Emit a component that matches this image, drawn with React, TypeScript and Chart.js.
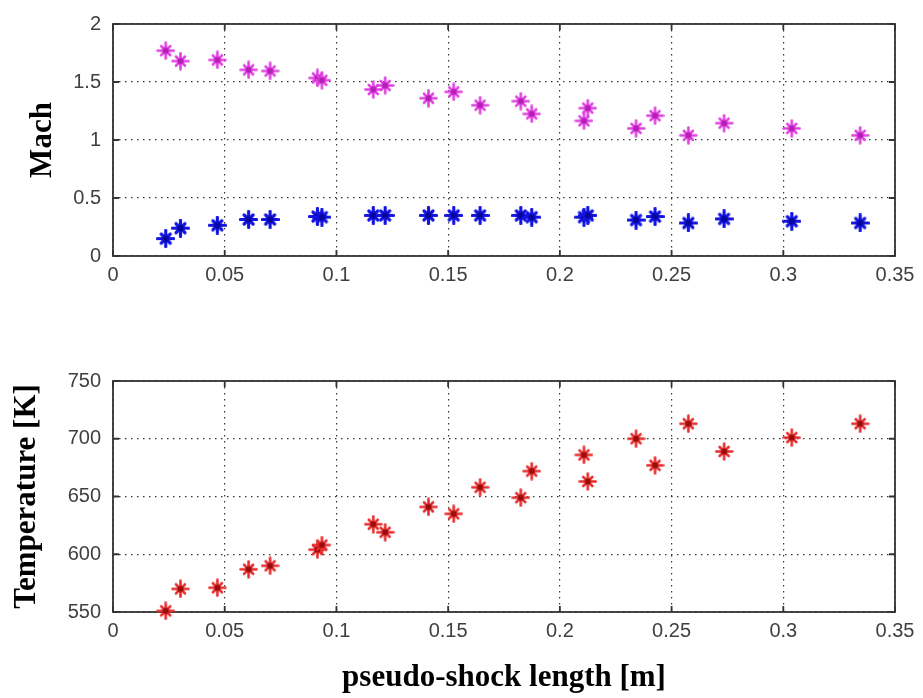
import React, { useEffect, useRef } from 'react';
import { Chart, registerables } from 'chart.js';

Chart.register(...registerables);

// ---------- data ----------
const shockLength = [
  0.0236, 0.0302, 0.0467, 0.0607, 0.0703, 0.0915, 0.0935, 0.1165, 0.1218, 0.1412, 0.1525,
  0.1643, 0.1825, 0.1874, 0.2108, 0.2125, 0.2341, 0.2426, 0.2575, 0.2735, 0.3038, 0.3344,
];
const machUpper = [
  1.77, 1.68, 1.69, 1.605, 1.595, 1.535, 1.515, 1.435, 1.47, 1.36, 1.415,
  1.3, 1.335, 1.225, 1.165, 1.275, 1.1, 1.21, 1.04, 1.145, 1.1, 1.04,
];
const machLower = [
  0.15, 0.24, 0.265, 0.315, 0.315, 0.34, 0.335, 0.35, 0.35, 0.35, 0.35,
  0.35, 0.35, 0.335, 0.335, 0.35, 0.31, 0.34, 0.285, 0.32, 0.3, 0.285,
];
const temperature = [
  551, 570, 571, 587, 590, 604, 608, 626, 619, 641, 635,
  658, 649, 672, 686, 663, 700, 677, 713, 689, 701, 713,
];

const xTickValues = [0, 0.05, 0.1, 0.15, 0.2, 0.25, 0.3, 0.35];
const xTickLabels = ['0', '0.05', '0.1', '0.15', '0.2', '0.25', '0.3', '0.35'];
const machTickValues = [0, 0.5, 1, 1.5, 2];
const machTickLabels = ['0', '0.5', '1', '1.5', '2'];
const tempTickValues = [550, 600, 650, 700, 750];
const tempTickLabels = ['550', '600', '650', '700', '750'];

const machTitle = 'Mach';
const tempTitle = 'Temperature [K]';
const xTitle = 'pseudo-shock length [m]';

// ---------- styling ----------
const TICK_FONT = { family: '"Liberation Sans", Arial, sans-serif', size: 20 };
const TITLE_FONT = { family: '"Liberation Serif", "Times New Roman", serif', size: 31, weight: 'bold' as const };
const TICK_COLOR = '#404040';
const GRID_COLOR = 'rgba(20,20,20,0.85)';
const FRAME_COLOR = '#333333';

function makeMarker(armColor: string, coreColor: string, armWidth: number) {
  const size = 19;
  const c = document.createElement('canvas');
  c.width = size;
  c.height = size;
  const g = c.getContext('2d')!;
  const m = size / 2;
  g.lineCap = 'round';
  g.strokeStyle = armColor;
  g.lineWidth = armWidth;
  g.beginPath();
  g.moveTo(m - 8, m);
  g.lineTo(m + 8, m);
  g.moveTo(m, m - 8);
  g.lineTo(m, m + 8);
  g.stroke();
  g.lineWidth = armWidth;
  g.beginPath();
  g.moveTo(m - 4.5, m - 4.5);
  g.lineTo(m + 4.5, m + 4.5);
  g.moveTo(m - 4.5, m + 4.5);
  g.lineTo(m + 4.5, m - 4.5);
  g.stroke();
  g.fillStyle = coreColor;
  g.beginPath();
  g.arc(m, m, 3, 0, Math.PI * 2);
  g.fill();
  return c;
}

const framePlugin = {
  id: 'matlabFrame',
  beforeDatasetsDraw(chart: any) {
    const { ctx, chartArea } = chart;
    const { left, right, top, bottom } = chartArea;
    ctx.save();
    ctx.strokeStyle = FRAME_COLOR;
    ctx.lineWidth = 1.8;
    ctx.setLineDash([]);
    ctx.strokeRect(left, top, right - left, bottom - top);
    const tl = 6;
    const xs = chart.scales.x;
    const ys = chart.scales.y;
    ctx.beginPath();
    xs.ticks.forEach((t: any) => {
      const px = xs.getPixelForValue(t.value);
      ctx.moveTo(px, bottom);
      ctx.lineTo(px, bottom - tl);
      ctx.moveTo(px, top);
      ctx.lineTo(px, top + tl);
    });
    ys.ticks.forEach((t: any) => {
      const py = ys.getPixelForValue(t.value);
      ctx.moveTo(left, py);
      ctx.lineTo(left + tl, py);
      ctx.moveTo(right, py);
      ctx.lineTo(right - tl, py);
    });
    ctx.stroke();
    ctx.restore();
  },
};

function makeX(showTitle: boolean, height: number) {
  return {
    type: 'linear' as const,
    min: 0,
    max: 0.35,
    afterBuildTicks: (s: any) => {
      s.ticks = xTickValues.map((v) => ({ value: v }));
    },
    afterFit: (s: any) => {
      s.height = height;
    },
    ticks: {
      autoSkip: false,
      maxRotation: 0,
      padding: 7,
      color: TICK_COLOR,
      font: TICK_FONT,
      callback: (_v: any, i: number) => xTickLabels[i],
    },
    grid: { color: GRID_COLOR, lineWidth: 1.2, drawTicks: false },
    border: { display: false, dash: [1.5, 4.5] },
    title: {
      display: showTitle,
      text: xTitle,
      color: '#000',
      font: TITLE_FONT,
      padding: { top: 0, bottom: 1 },
    },
  };
}

function makeY(
  min: number,
  max: number,
  values: number[],
  labels: string[],
  title: string,
  titlePad: number
) {
  return {
    type: 'linear' as const,
    min,
    max,
    afterBuildTicks: (s: any) => {
      s.ticks = values.map((v) => ({ value: v }));
    },
    afterFit: (s: any) => {
      s.width = 113;
    },
    ticks: {
      autoSkip: false,
      padding: 12,
      color: TICK_COLOR,
      font: TICK_FONT,
      callback: (_v: any, i: number) => labels[i],
    },
    grid: { color: GRID_COLOR, lineWidth: 1.2, drawTicks: false },
    border: { display: false, dash: [1.5, 4.5] },
    title: {
      display: true,
      text: title,
      color: '#000',
      font: TITLE_FONT,
      padding: { top: titlePad, bottom: 0 },
    },
  };
}

function pts(ys: number[]) {
  return shockLength.map((x, i) => ({ x, y: ys[i] }));
}

export default function App() {
  const topRef = useRef<HTMLCanvasElement | null>(null);
  const botRef = useRef<HTMLCanvasElement | null>(null);

  useEffect(() => {
    if (!topRef.current || !botRef.current) return;

    const magentaMarker = makeMarker('#e040e0', '#b81cb8', 2.6);
    const blueMarker = makeMarker('#1414e0', '#06069a', 3.2);
    const redMarker = makeMarker('#e62c2c', '#9c0c0c', 2.6);

    const top = new Chart(topRef.current, {
      type: 'scatter',
      data: {
        datasets: [
          {
            label: 'Mach (upper)',
            data: pts(machUpper),
            pointStyle: magentaMarker,
            pointRadius: 8,
            clip: false,
          },
          {
            label: 'Mach (lower)',
            data: pts(machLower),
            pointStyle: blueMarker,
            pointRadius: 8,
            clip: false,
          },
        ],
      },
      options: {
        animation: false,
        responsive: false,
        maintainAspectRatio: false,
        layout: { padding: { left: 0, right: 28, top: 23, bottom: 0 } },
        plugins: { legend: { display: false }, tooltip: { enabled: false } },
        scales: {
          x: makeX(false, 54),
          y: makeY(0, 2, machTickValues, machTickLabels, machTitle, 24),
        },
      },
      plugins: [framePlugin],
    } as any);

    const bot = new Chart(botRef.current, {
      type: 'scatter',
      data: {
        datasets: [
          {
            label: 'Temperature',
            data: pts(temperature),
            pointStyle: redMarker,
            pointRadius: 8,
            clip: false,
          },
        ],
      },
      options: {
        animation: false,
        responsive: false,
        maintainAspectRatio: false,
        layout: { padding: { left: 0, right: 28, top: 51, bottom: 0 } },
        plugins: { legend: { display: false }, tooltip: { enabled: false } },
        scales: {
          x: makeX(true, 86),
          y: makeY(550, 750, tempTickValues, tempTickLabels, tempTitle, 8),
        },
      },
      plugins: [framePlugin],
    } as any);

    return () => {
      top.destroy();
      bot.destroy();
    };
  }, []);

  return (
    <div style={{ position: 'absolute', left: 0, top: 0, width: 923, height: 698, background: '#fff' }}>
      <canvas
        ref={topRef}
        width={923}
        height={310}
        style={{ position: 'absolute', left: 0, top: 0, width: 923, height: 310 }}
      />
      <canvas
        ref={botRef}
        width={923}
        height={368}
        style={{ position: 'absolute', left: 0, top: 330, width: 923, height: 368 }}
      />
    </div>
  );
}
